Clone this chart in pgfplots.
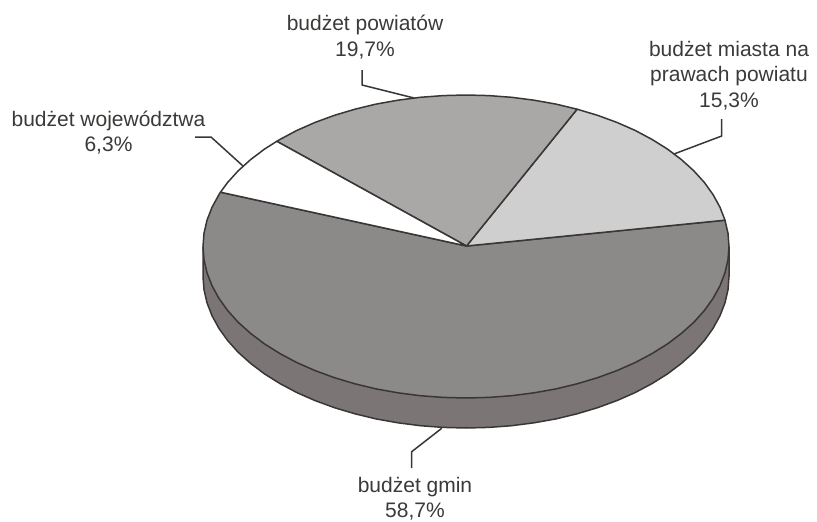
\documentclass[border=0pt]{standalone}
\usepackage{fontspec}
\setmainfont{Liberation Sans}
\usepackage{pgfplots}
\pgfplotsset{compat=1.18}

\definecolor{edge}{HTML}{3A3636}
\definecolor{txt}{HTML}{3C3A38}
\definecolor{gmin}{HTML}{8B8A88}
\definecolor{gminside}{HTML}{7B7675}
\definecolor{powiaty}{HTML}{A9A8A7}
\definecolor{miasta}{HTML}{CFCFCF}

\pgfplotsset{
    outline/.style={solid, no marks, line join=round, line width=1.5pt, draw=edge},
}

% outlines in reference pixels, y down
\pgfplotstableread{
x y
466.5 246
220.5 192.2
218.9 194.7
212.0 207.3
207.0 220.2
204.0 233.3
203.0 246.5
204.0 259.7
207.0 272.8
212.0 285.7
218.9 298.3
227.6 310.5
238.2 322.3
250.6 333.4
264.5 343.9
280.0 353.6
296.9 362.6
315.1 370.6
334.5 377.7
354.9 383.8
376.0 388.9
397.9 392.8
420.3 395.7
443.1 397.4
466.0 398.0
488.9 397.4
511.7 395.7
534.1 392.8
556.0 388.9
577.1 383.8
597.5 377.7
616.9 370.6
635.1 362.6
652.0 353.6
667.5 343.9
681.4 333.4
693.8 322.3
704.4 310.5
713.1 298.3
720.0 285.7
725.0 272.8
728.0 259.7
729.0 246.5
728.0 233.3
725.0 220.2
466.5 246
}\slicegmin

\pgfplotstableread{
x y
466.5 246
725.0 220.2
720.0 207.3
713.1 194.7
704.4 182.5
693.8 170.8
681.4 159.6
667.5 149.1
652.0 139.4
635.1 130.4
616.9 122.4
597.5 115.3
577.1 109.2
466.5 246
}\slicemiasta

\pgfplotstableread{
x y
466.5 246
577.1 109.2
556.0 104.1
534.1 100.2
511.7 97.3
488.9 95.6
466.0 95.0
443.1 95.6
420.3 97.3
397.9 100.2
376.0 104.1
354.9 109.2
334.5 115.3
315.1 122.4
296.9 130.4
280.0 139.4
276.8 141.3
466.5 246
}\slicepowiaty

\pgfplotstableread{
x y
466.5 246
276.8 141.3
264.5 149.1
250.6 159.6
238.2 170.8
227.6 182.5
220.5 192.2
466.5 246
}\slicewoj

\pgfplotstableread{
x y
203.0 246.5
203.0 276.5
204.0 289.7
207.0 302.8
212.0 315.7
218.9 328.3
227.6 340.5
238.2 352.3
250.6 363.4
264.5 373.9
280.0 383.6
296.9 392.6
315.1 400.6
334.5 407.7
354.9 413.8
376.0 418.9
397.9 422.8
420.3 425.7
443.1 427.4
466.0 428.0
488.9 427.4
511.7 425.7
534.1 422.8
556.0 418.9
577.1 413.8
597.5 407.7
616.9 400.6
635.1 392.6
652.0 383.6
667.5 373.9
681.4 363.4
693.8 352.3
704.4 340.5
713.1 328.3
720.0 315.7
725.0 302.8
728.0 289.7
729.0 276.5
729.0 246.5
}\sidewall

\begin{document}
\begin{tikzpicture}
\useasboundingbox (0,0) rectangle (817pt,522pt);
\begin{axis}[
    scale only axis,
    width=817pt,
    height=522pt,
    xmin=0, xmax=817,
    ymin=0, ymax=522,
    y dir=reverse,
    hide axis,
    clip=false,
]
\addplot[outline, fill=gminside] table {\sidewall};
\addplot[outline, fill=gmin] table {\slicegmin};
\addplot[outline, fill=miasta] table {\slicemiasta};
\addplot[outline, fill=powiaty] table {\slicepowiaty};
\addplot[outline, fill=white] table {\slicewoj};

% leader lines
\addplot[outline] coordinates {(362,70) (362,85) (414,98)};
\addplot[outline] coordinates {(195,137) (211,137) (243,166)};
\addplot[outline] coordinates {(721.7,119) (721.7,136) (674,154)};
\addplot[outline] coordinates {(411.7,468) (411.7,451.7) (441.7,428.3)};

\begin{scope}[every node/.style={text=txt, align=center, inner sep=0pt, font=\fontsize{21}{25.5}\selectfont}]
\node at (axis cs:365,37) {budżet powiatów\\19,7\%};
\node at (axis cs:108.5,132.5) {budżet województwa\\6,3\%};
\node at (axis cs:729,75.5) {budżet miasta na\\prawach powiatu\\15,3\%};
\node at (axis cs:415,498.5) {budżet gmin\\58,7\%};
\end{scope}
\end{axis}
\end{tikzpicture}
\end{document}
